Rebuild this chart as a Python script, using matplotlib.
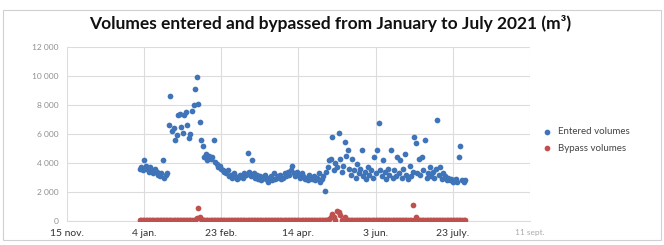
import datetime as dt
import matplotlib
matplotlib.use("Agg")
import matplotlib.pyplot as plt
import matplotlib.dates as mdates
from matplotlib.patches import Rectangle

# ---------------- data ----------------
start_date = dt.date(2021, 1, 1)
entered_jan = [3600, 3700, 3500, 4200, 3800, 3600, 3400, 3700, 3500, 3300, 3600, 3400, 3200, 3100, 3300, 4200,
               3000, 3200, 3300, 6600, 8600, 6200, 6400, 5600, 5900, 7300, 7400, 6500, 6100, 7300, 7500]
entered_feb = [6600, 5700, 6000, 7600, 8000, 9100, 9900, 8100, 6800, 5600, 5200, 4400, 4600, 4200, 4500, 4300,
               4400, 5600, 4100, 3900, 3700, 3800, 3600, 3500, 3400, 3300, 3500, 3100]
entered_mar = [3200, 3000, 3300, 3100, 2900, 3000, 3200, 3100, 3000, 3300, 3200, 4700, 3400, 3100, 4200, 3300,
               3000, 3200, 2900, 3100, 2800, 3000, 3200, 2900, 2700, 3000, 3100, 2800, 3300, 2900, 3000]
entered_apr = [3100, 3200, 2900, 3000, 3300, 3100, 3400, 3200, 3500, 3800, 3300, 3100, 3400, 3200, 3000, 3300,
               3100, 2900, 3000, 2800, 3200, 3000, 2900, 3100, 2800, 3000, 3300, 2700, 2900, 3100]
entered_may = [2100, 3400, 3700, 4200, 4300, 5800, 3500, 4000, 3700, 6100, 4300, 3400, 3800, 5450, 4500, 4900,
               3600, 3200, 4300, 3500, 3000, 3900, 3300, 3600, 4900, 3100, 3400, 2900, 3700, 3200, 3500]
entered_jun = [3000, 4400, 3300, 4900, 6760, 3500, 3100, 4200, 3400, 2900, 3600, 3200, 4900, 3000, 3500, 3100,
               4400, 3300, 4200, 3000, 3600, 4600, 3200, 2900, 3800, 3100, 3400, 5800, 5400, 3300]
entered_jul = [4300, 3200, 4400, 3500, 5600, 3000, 3300, 3700, 3100, 3400, 3000, 3600, 7000, 3200, 3700, 2900,
               3300, 3100, 2800, 3000, 2800, 2900, 2700, 2800, 2900, 2700, 4400, 5200, 2800, 2700, 2800]

bypass_jan = [50, 60, 40, 50, 60, 50, 40, 50, 60, 50, 50, 40, 60, 50, 50, 60,
              40, 50, 60, 50, 50, 60, 40, 50, 60, 50, 40, 50, 60, 50, 50]
bypass_feb = [60, 50, 40, 60, 50, 60, 200, 900, 300, 150, 60, 50, 40, 60, 50, 60,
              40, 50, 60, 50, 40, 50, 60, 50, 40, 60, 50, 50]
bypass_mar = [50, 60, 40, 50, 60, 50, 40, 50, 60, 50, 50, 40, 60, 50, 50, 60,
              40, 50, 60, 50, 50, 60, 40, 50, 60, 50, 40, 50, 60, 50, 50]
bypass_apr = [60, 50, 40, 60, 50, 60, 40, 50, 60, 50, 40, 50, 60, 50, 40, 60,
              50, 60, 40, 50, 60, 50, 40, 60, 50, 60, 40, 50, 60, 50]
bypass_may = [50, 60, 40, 150, 300, 500, 250, 100, 700, 600, 400, 80, 60, 250, 50, 60,
              40, 50, 60, 50, 50, 60, 40, 50, 60, 50, 40, 50, 60, 50, 50]
bypass_jun = [60, 50, 40, 60, 50, 60, 40, 50, 60, 50, 40, 50, 60, 50, 40, 60,
              50, 60, 40, 50, 60, 50, 40, 60, 50, 60, 1100, 80, 300, 50]
bypass_jul = [50, 60, 40, 50, 60, 50, 40, 50, 60, 50, 50, 40, 60, 50, 50, 60,
              40, 50, 60, 50, 50, 60, 40, 50, 60, 50, 40, 50, 60, 50, 50]

entered = entered_jan + entered_feb + entered_mar + entered_apr + entered_may + entered_jun + entered_jul
bypass = bypass_jan + bypass_feb + bypass_mar + bypass_apr + bypass_may + bypass_jun + bypass_jul
dates = [start_date + dt.timedelta(days=i) for i in range(len(entered))]

tick_dates = [dt.date(2020, 11, 15), dt.date(2021, 1, 4), dt.date(2021, 2, 23), dt.date(2021, 4, 14),
              dt.date(2021, 6, 3), dt.date(2021, 7, 23), dt.date(2021, 9, 11)]
tick_labels = ["15 nov.", "4 jan.", "23 feb.", "14 apr.", "3 jun.", "23 july.", "11 sept."]
y_ticks = [0, 2000, 4000, 6000, 8000, 10000, 12000]
y_labels = ["0", "2 000", "4 000", "6 000", "8 000", "10 000", "12 000"]
title = "Volumes entered and bypassed from January to July 2021 (m³)"
series_names = ["Entered volumes", "Bypass volumes"]

# ---------------- plot ----------------
plt.rcParams['font.family'] = ['Lato', 'DejaVu Sans']
fig = plt.figure(figsize=(6.64, 2.45), dpi=100)
ax = fig.add_axes([0.101, 0.098, 0.697, 0.71])

blue = "#3f74b9"
red = "#c0504d"
ax.scatter(dates, entered, s=17, color=blue, label=series_names[0], zorder=3, linewidths=0)
ax.scatter(dates, bypass, s=17, color=red, label=series_names[1], zorder=3, linewidths=0)

ax.set_xlim(tick_dates[0], tick_dates[-1])
ax.set_ylim(0, 12000)
ax.set_xticks(tick_dates)
ax.set_xticklabels(tick_labels, fontsize=7.5, color="#333333")
ax.get_xticklabels()[-1].set_color("#aaaaaa")
ax.get_xticklabels()[-1].set_fontsize(6)
ax.set_yticks(y_ticks)
ax.set_yticklabels(y_labels, fontsize=6, color="#909090")
ax.tick_params(length=0, pad=6)
ax.grid(True, color="#dcdcdc", linewidth=0.8)
ax.set_axisbelow(True)
for s in ax.spines.values():
    s.set_visible(False)
ax.spines['bottom'].set_visible(True)
ax.spines['bottom'].set_color("#dcdcdc")

fig.text(0.497, 0.905, title, ha="center", va="center", fontsize=12.5, fontweight="bold", color="#111111")

leg = ax.legend(loc="center left", bbox_to_anchor=(1.0, 0.465), frameon=False, fontsize=7,
                handletextpad=0.1, markerscale=1.0, labelspacing=0.8, borderaxespad=0.4)
for t in leg.get_texts():
    t.set_color("#444444")

fig.patches.append(Rectangle((0.005, 0.02), 0.99, 0.94, transform=fig.transFigure, fill=False,
                             edgecolor="#d0d0d0", linewidth=0.8))

fig.savefig("out.png", dpi=100)
